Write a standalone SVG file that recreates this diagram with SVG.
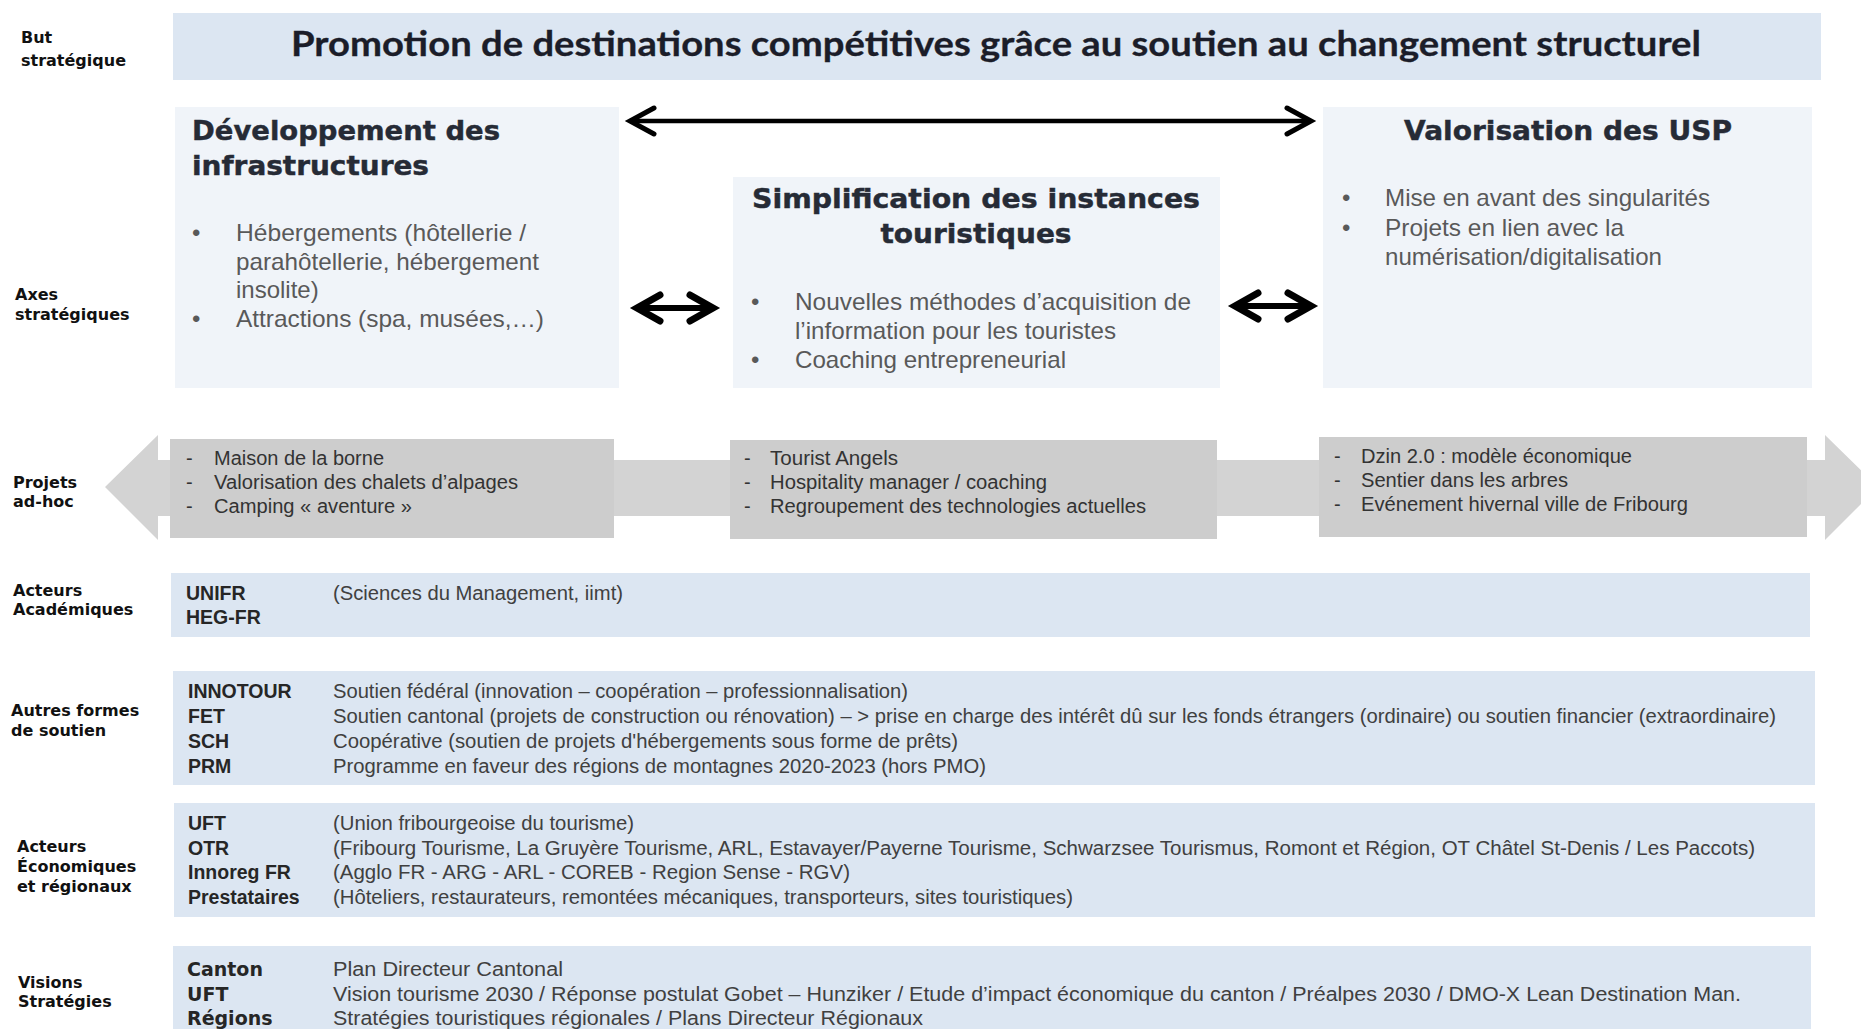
<svg xmlns="http://www.w3.org/2000/svg" width="1861" height="1029" viewBox="0 0 1861 1029">
<defs>
<style>
.lbl{font-family:"DejaVu Sans",sans-serif;font-weight:bold;font-size:16px;fill:#111}
.title{font-family:Lato,"Open Sans",sans-serif;font-weight:700;font-size:34px;fill:#1b1d29;stroke:#1b1d29;stroke-width:0.3px}
.hdr{font-family:"DejaVu Sans",sans-serif;font-weight:bold;font-size:27px;fill:#262b36;stroke:#262b36;stroke-width:0.45px}
.ax{font-family:"Liberation Sans",Arial,sans-serif;font-size:24px;fill:#595959}
.pj{font-family:"Liberation Sans",Arial,sans-serif;font-size:20px;fill:#333}
.key{font-family:"Liberation Sans",Arial,sans-serif;font-weight:bold;font-size:19.5px;fill:#262626}
.key2{font-family:"DejaVu Sans",sans-serif;font-weight:bold;font-size:19px;fill:#262626}
.desc{font-family:"Liberation Sans",Arial,sans-serif;font-size:20px;fill:#404040}
.band{fill:#dce6f2}
.axbox{fill:#f0f4f9}
.gbox{fill:#cdcdcd}
.conn{fill:none;stroke:#000}
</style>
<marker id="chevBig" viewBox="-5 -5 40 40" refX="27" refY="15" markerWidth="40" markerHeight="40" markerUnits="userSpaceOnUse" orient="auto-start-reverse">
<path d="M3 2 L27 15 L3 28" fill="none" stroke="#000" stroke-width="5" stroke-linecap="round"/>
</marker>
<marker id="chevSmall" viewBox="-5 -5 40 40" refX="27" refY="15" markerWidth="40" markerHeight="40" markerUnits="userSpaceOnUse" orient="auto-start-reverse">
<path d="M4 2 L27 15 L4 28" fill="none" stroke="#000" stroke-width="7" stroke-linecap="round"/>
</marker>
</defs>
<rect width="1861" height="1029" fill="#fff"/>

<g id="row-labels">
<text class="lbl" x="21" y="43" font-size="17">But</text>
<text class="lbl" x="21" y="66" font-size="17">stratégique</text>
<text class="lbl" x="15" y="300">Axes</text>
<text class="lbl" x="15" y="320">stratégiques</text>
<text class="lbl" x="13" y="488">Projets</text>
<text class="lbl" x="13" y="507">ad-hoc</text>
<text class="lbl" x="13" y="596">Acteurs</text>
<text class="lbl" x="13" y="615">Académiques</text>
<text class="lbl" x="11" y="716">Autres formes</text>
<text class="lbl" x="11" y="736">de soutien</text>
<text class="lbl" x="17" y="852">Acteurs</text>
<text class="lbl" x="17" y="872">Économiques</text>
<text class="lbl" x="17" y="892">et régionaux</text>
<text class="lbl" x="18" y="988">Visions</text>
<text class="lbl" x="18" y="1007">Stratégies</text>
</g>

<g id="goal">
<rect class="band" x="173" y="13" width="1648" height="67"/>
<text class="title" x="996" y="56" text-anchor="middle" textLength="1410" lengthAdjust="spacingAndGlyphs">Promotion de destinations compétitives grâce au soutien au changement structurel</text>
</g>

<g id="axe-infrastructures">
<rect class="axbox" x="175" y="107" width="444" height="281"/>
<text class="hdr" x="192" y="140" textLength="308" lengthAdjust="spacingAndGlyphs">Développement des</text>
<text class="hdr" x="192" y="175" textLength="237" lengthAdjust="spacingAndGlyphs">infrastructures</text>
<text class="ax" x="192" y="241">•</text>
<text class="ax" x="236" y="241" textLength="290" lengthAdjust="spacingAndGlyphs">Hébergements (hôtellerie /</text>
<text class="ax" x="236" y="270" textLength="303" lengthAdjust="spacingAndGlyphs">parahôtellerie, hébergement</text>
<text class="ax" x="236" y="298">insolite)</text>
<text class="ax" x="192" y="327">•</text>
<text class="ax" x="236" y="327" textLength="308" lengthAdjust="spacingAndGlyphs">Attractions (spa, musées,…)</text>
</g>

<g id="axe-simplification">
<rect class="axbox" x="733" y="177" width="487" height="211"/>
<text class="hdr" x="752" y="208" textLength="448" lengthAdjust="spacingAndGlyphs">Simplification des instances</text>
<text class="hdr" x="976" y="243" text-anchor="middle" textLength="191" lengthAdjust="spacingAndGlyphs">touristiques</text>
<text class="ax" x="751" y="310">•</text>
<text class="ax" x="795" y="310" textLength="396" lengthAdjust="spacingAndGlyphs">Nouvelles méthodes d’acquisition de</text>
<text class="ax" x="795" y="339" textLength="321" lengthAdjust="spacingAndGlyphs">l’information pour les touristes</text>
<text class="ax" x="751" y="368">•</text>
<text class="ax" x="795" y="368" textLength="271" lengthAdjust="spacingAndGlyphs">Coaching entrepreneurial</text>
</g>

<g id="axe-usp">
<rect class="axbox" x="1323" y="107" width="489" height="281"/>
<text class="hdr" x="1404" y="140" textLength="328" lengthAdjust="spacingAndGlyphs">Valorisation des USP</text>
<text class="ax" x="1342" y="206">•</text>
<text class="ax" x="1385" y="206" textLength="325" lengthAdjust="spacingAndGlyphs">Mise en avant des singularités</text>
<text class="ax" x="1342" y="236">•</text>
<text class="ax" x="1385" y="236" textLength="239" lengthAdjust="spacingAndGlyphs">Projets en lien avec la</text>
<text class="ax" x="1385" y="265" textLength="277" lengthAdjust="spacingAndGlyphs">numérisation/digitalisation</text>
</g>

<g id="connectors">
<path class="conn" d="M630 121 H1311" stroke-width="4.5" marker-start="url(#chevBig)" marker-end="url(#chevBig)"/>
<path class="conn" d="M637 308 H713" stroke-width="6" marker-start="url(#chevSmall)" marker-end="url(#chevSmall)"/>
<path class="conn" d="M1235 306 H1311" stroke-width="6" marker-start="url(#chevSmall)" marker-end="url(#chevSmall)"/>
</g>

<g id="projets-arrow">
<polygon points="105,487 158,435 158,460 1825,460 1825,435 1878,487 1825,540 1825,516 158,516 158,540" fill="#d3d3d3"/>
</g>

<g id="projets-infrastructures">
<rect class="gbox" x="170" y="439" width="444" height="99"/>
<text class="pj" x="186" y="465">-</text><text class="pj" x="214" y="465" textLength="170" lengthAdjust="spacingAndGlyphs">Maison de la borne</text>
<text class="pj" x="186" y="489">-</text><text class="pj" x="214" y="489" textLength="304" lengthAdjust="spacingAndGlyphs">Valorisation des chalets d’alpages</text>
<text class="pj" x="186" y="513">-</text><text class="pj" x="214" y="513" textLength="198" lengthAdjust="spacingAndGlyphs">Camping « aventure »</text>
</g>

<g id="projets-simplification">
<rect class="gbox" x="730" y="440" width="487" height="99"/>
<text class="pj" x="744" y="465">-</text><text class="pj" x="770" y="465" textLength="128" lengthAdjust="spacingAndGlyphs">Tourist Angels</text>
<text class="pj" x="744" y="489">-</text><text class="pj" x="770" y="489" textLength="277" lengthAdjust="spacingAndGlyphs">Hospitality manager / coaching</text>
<text class="pj" x="744" y="513">-</text><text class="pj" x="770" y="513" textLength="376" lengthAdjust="spacingAndGlyphs">Regroupement  des technologies actuelles</text>
</g>

<g id="projets-usp">
<rect class="gbox" x="1319" y="437" width="488" height="100"/>
<text class="pj" x="1334" y="463">-</text><text class="pj" x="1361" y="463" textLength="271" lengthAdjust="spacingAndGlyphs">Dzin 2.0 : modèle économique</text>
<text class="pj" x="1334" y="487">-</text><text class="pj" x="1361" y="487" textLength="207" lengthAdjust="spacingAndGlyphs">Sentier dans les arbres</text>
<text class="pj" x="1334" y="511">-</text><text class="pj" x="1361" y="511" textLength="327" lengthAdjust="spacingAndGlyphs">Evénement  hivernal  ville de Fribourg</text>
</g>

<g id="acteurs-academiques">
<rect class="band" x="171" y="573" width="1639" height="64"/>
<text class="key" x="186" y="600">UNIFR</text>
<text class="key" x="186" y="624">HEG-FR</text>
<text class="desc" x="333" y="600" textLength="290" lengthAdjust="spacingAndGlyphs">(Sciences du Management,  iimt)</text>
</g>

<g id="autres-formes-soutien">
<rect class="band" x="173" y="671" width="1642" height="114"/>
<text class="key" x="188" y="698">INNOTOUR</text>
<text class="key" x="188" y="723">FET</text>
<text class="key" x="188" y="748">SCH</text>
<text class="key" x="188" y="773">PRM</text>
<text class="desc" x="333" y="698" textLength="575" lengthAdjust="spacingAndGlyphs">Soutien fédéral  (innovation  – coopération  – professionnalisation)</text>
<text class="desc" x="333" y="723" textLength="1443" lengthAdjust="spacingAndGlyphs">Soutien cantonal (projets de construction ou rénovation)  – &gt; prise en charge des intérêt dû sur les fonds étrangers  (ordinaire)  ou soutien financier (extraordinaire)</text>
<text class="desc" x="333" y="748" textLength="625" lengthAdjust="spacingAndGlyphs">Coopérative  (soutien de projets d'hébergements  sous forme de prêts)</text>
<text class="desc" x="333" y="773" textLength="653" lengthAdjust="spacingAndGlyphs">Programme  en faveur  des régions de montagnes 2020-2023 (hors PMO)</text>
</g>

<g id="acteurs-economiques">
<rect class="band" x="174" y="803" width="1641" height="114"/>
<text class="key" x="188" y="830">UFT</text>
<text class="key" x="188" y="855">OTR</text>
<text class="key" x="188" y="879">Innoreg FR</text>
<text class="key" x="188" y="904">Prestataires</text>
<text class="desc" x="333" y="830" textLength="301" lengthAdjust="spacingAndGlyphs">(Union  fribourgeoise  du tourisme)</text>
<text class="desc" x="333" y="855" textLength="1422" lengthAdjust="spacingAndGlyphs">(Fribourg  Tourisme,  La Gruyère Tourisme,  ARL,  Estavayer/Payerne  Tourisme,  Schwarzsee Tourismus,  Romont  et Région,  OT Châtel St-Denis / Les Paccots)</text>
<text class="desc" x="333" y="879" textLength="517" lengthAdjust="spacingAndGlyphs">(Agglo FR - ARG - ARL - COREB - Region  Sense - RGV)</text>
<text class="desc" x="333" y="904" textLength="740" lengthAdjust="spacingAndGlyphs">(Hôteliers,  restaurateurs,  remontées  mécaniques,  transporteurs,  sites touristiques)</text>
</g>

<g id="visions-strategies">
<rect class="band" x="173" y="946" width="1638" height="90"/>
<text class="key2" x="187" y="976">Canton</text>
<text class="key2" x="187" y="1001">UFT</text>
<text class="key2" x="187" y="1025">Régions</text>
<text class="desc" x="333" y="976" textLength="230" lengthAdjust="spacingAndGlyphs">Plan Directeur Cantonal</text>
<text class="desc" x="333" y="1001" textLength="1408" lengthAdjust="spacingAndGlyphs">Vision tourisme 2030 / Réponse postulat Gobet – Hunziker / Etude d’impact économique du canton / Préalpes 2030 / DMO-X Lean Destination Man.</text>
<text class="desc" x="333" y="1025" textLength="590" lengthAdjust="spacingAndGlyphs">Stratégies touristiques régionales / Plans Directeur Régionaux</text>
</g>
</svg>
